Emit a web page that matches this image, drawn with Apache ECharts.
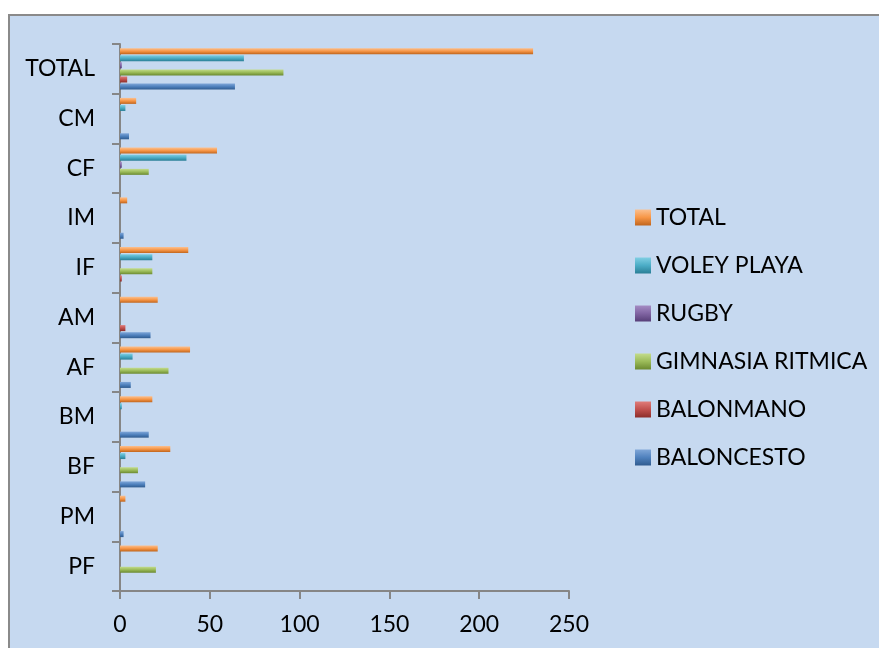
<!DOCTYPE html>
<html>
<head>
<meta charset="utf-8">
<script src="https://cdn.jsdelivr.net/npm/echarts@6/dist/echarts.min.js"></script>
<style>
html,body{margin:0;padding:0;background:#fff;}
#c{width:879px;height:648px;}
</style>
</head>
<body>
<div id="c"></div>
<script>
var categories = ['PF','PM','BF','BM','AF','AM','IF','IM','CF','CM','TOTAL'];
var baloncesto = [0, 2, 14, 16, 6, 17, 0, 2, 0, 5, 64];
var balonmano  = [0, 0, 0, 0, 0, 3, 1, 0, 0, 0, 4];
var gimnasia   = [20, 0, 10, 0, 27, 0, 18, 0, 16, 0, 91];
var rugby      = [0, 0, 0, 0, 0, 0, 0, 0, 1, 0, 1];
var voley      = [0, 0, 3, 1, 7, 0, 18, 0, 37, 3, 69];
var total      = [21, 3, 28, 18, 39, 21, 38, 4, 54, 9, 230];
var legendOrder = ['TOTAL','VOLEY PLAYA','RUGBY','GIMNASIA RITMICA','BALONMANO','BALONCESTO'];
var xTicks = [0, 50, 100, 150, 200, 250];

var FONT = 'Lato';
function grad(light, mid, dark){
  return new echarts.graphic.LinearGradient(0,0,0,1,[
    {offset:0,color:light},{offset:0.5,color:mid},{offset:1,color:dark}
  ]);
}
function mk(name, data, c1, c2, c3){
  return {
    name: name, type: 'bar', data: data,
    barWidth: 6, barGap: '18%',
    itemStyle: {color: grad(c1, c2, c3)}
  };
}
var chart = echarts.init(document.getElementById('c'));
chart.setOption({
  backgroundColor: '#ffffff',
  animation: false,
  graphic: [{
    type: 'rect', z: -10, silent: true,
    shape: {x: 9, y: 15, width: 900, height: 700},
    style: {fill: '#c6d9f0', stroke: '#8a8a8a', lineWidth: 2}
  }],
  grid: {left: 120, right: 310, top: 44, bottom: 57, containLabel: false},
  legend: {
    orient: 'vertical', left: 630, top: 201,
    data: legendOrder,
    icon: 'rect', itemWidth: 16, itemHeight: 16, itemGap: 25,
    textStyle: {fontFamily: FONT, fontSize: 23, color: '#000'}
  },
  xAxis: {
    type: 'value', min: 0, max: 250, interval: 50,
    axisLine: {show: true, lineStyle: {color: '#868686', width: 2}},
    axisTick: {show: true, length: 8, lineStyle: {color: '#868686', width: 2}},
    splitLine: {show: false},
    axisLabel: {
      fontFamily: FONT, fontSize: 23, color: '#000', margin: 22,
      formatter: function(v){ return xTicks.indexOf(v) >= 0 ? String(v) : ''; }
    }
  },
  yAxis: {
    type: 'category', data: categories,
    axisLine: {show: true, lineStyle: {color: '#868686', width: 2}},
    axisTick: {show: true, length: 8, alignWithLabel: false, lineStyle: {color: '#868686', width: 2}},
    axisLabel: {fontFamily: FONT, fontSize: 23, color: '#000', margin: 25}
  },
  series: [
    mk('TOTAL', total, '#fbc08f', '#f79646', '#c0651d'),
    mk('VOLEY PLAYA', voley, '#80cfe3', '#4bacc6', '#2a7f96'),
    mk('RUGBY', rugby, '#a48cc4', '#8064a2', '#573f78'),
    mk('GIMNASIA RITMICA', gimnasia, '#c3dc8c', '#9bbb59', '#6b8a30'),
    mk('BALONMANO', balonmano, '#e07c79', '#c0504d', '#8c2d2a'),
    mk('BALONCESTO', baloncesto, '#7fa6d8', '#4f81bd', '#2f5b8f')
  ]
});
</script>
</body>
</html>
